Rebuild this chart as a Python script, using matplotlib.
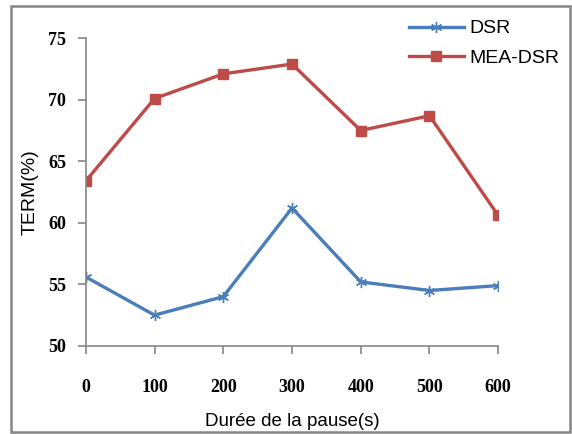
import matplotlib
matplotlib.use("Agg")
import matplotlib.pyplot as plt
from matplotlib.patches import Rectangle

pause = [0, 100, 200, 300, 400, 500, 600]
dsr = [55.6, 52.5, 54.0, 61.2, 55.2, 54.5, 54.9]
mea_dsr = [63.4, 70.1, 72.1, 72.9, 67.5, 68.7, 60.6]
yticks = [50, 55, 60, 65, 70, 75]

BLUE, RED, GREY = "#4a7ebb", "#be4b48", "#868686"

fig = plt.figure(figsize=(5.72, 4.34), dpi=100)
ax = fig.add_axes([0.150, 0.203, 0.721, 0.709])

# excel-style star marker: x plus a vertical bar
ax.plot(pause, dsr, "-", color=BLUE, lw=2.4, marker=(6, 2, 0), ms=8, mew=1.0, label="DSR")
ax.plot(pause, mea_dsr, "-", color=RED, lw=2.4, marker="s", ms=6.5, label="MEA-DSR")

ax.set_xlim(0, 600)
ax.set_ylim(50, 75)
ax.set_xticks(pause)
ax.set_yticks(yticks)
for s in ("top", "right"):
    ax.spines[s].set_visible(False)
for s in ("left", "bottom"):
    ax.spines[s].set_color(GREY)
    ax.spines[s].set_linewidth(1.2)
ax.tick_params(axis="both", colors=GREY, length=6, width=1.2, direction="out")
ax.tick_params(axis="x", pad=18, labelcolor="black")
ax.tick_params(axis="y", pad=8, labelcolor="black")
for lab in ax.get_xticklabels() + ax.get_yticklabels():
    lab.set_fontfamily("Liberation Serif")
    lab.set_fontweight("bold")
    lab.set_fontsize(13)

ax.set_xlabel("Durée de la pause(s)", fontsize=13.5, family="Liberation Sans", labelpad=12)
ax.set_ylabel("TERM(%)", fontsize=14, family="Liberation Sans", labelpad=7)

ax.legend(loc="upper left", bbox_to_anchor=(0.765, 1.085), frameon=False,
          prop={"family": "Liberation Sans", "size": 14}, handlelength=2.8,
          handletextpad=0.3, labelspacing=0.6, borderaxespad=0)

fig.patches.append(Rectangle((11 / 572, 2 / 434), 559 / 572, 426 / 434,
                             transform=fig.transFigure, fill=False,
                             edgecolor=GREY, lw=1.8))

fig.savefig("out.png", dpi=100)
